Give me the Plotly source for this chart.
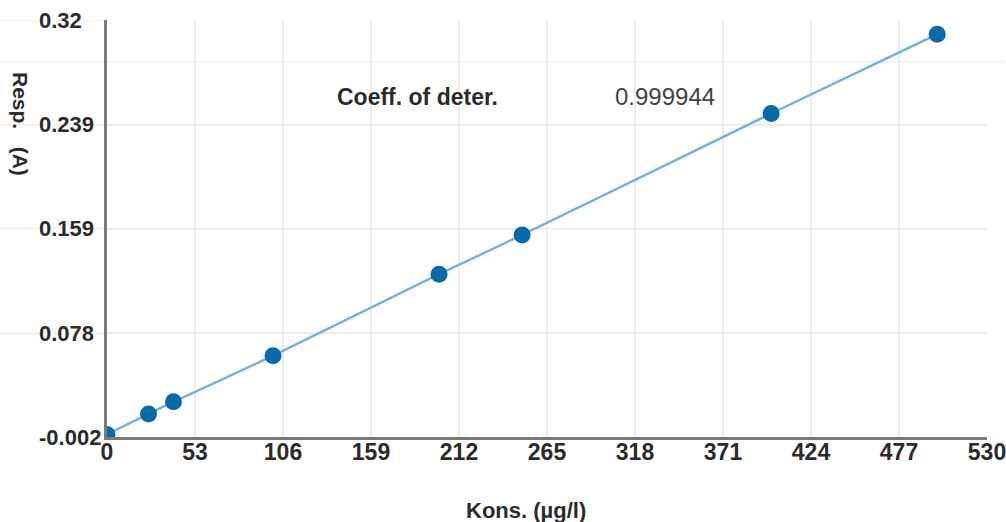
import plotly.graph_objects as go

# Calibration standards: concentration (µg/l) and measured response (A)
konsentrasjon = [0, 25, 40, 100, 200, 250, 400, 500]
respons = [0.000, 0.0158, 0.0252, 0.0608, 0.1237, 0.1540, 0.2478, 0.3090]

x_ticks = [0, 53, 106, 159, 212, 265, 318, 371, 424, 477, 530]
y_ticks = [-0.002, 0.078, 0.159, 0.239, 0.32]
y_tick_text = ["-0.002", "0.078", "0.159", "0.239", "0.32"]

coeff_label = "Coeff. of deter."
coeff_value = "0.999944"

FONT = "Liberation Sans, Arial, sans-serif"
TEXT_COLOR = "#2b2b2b"
GRID = "#ececec"
AXIS = "#7a7a7a"

# Plot area in pixels
L, R, T, B = 107, 987, 20, 437
W, H = R - L, B - T

fig = go.Figure()

# Fitted calibration curve
fig.add_trace(go.Scatter(
    x=konsentrasjon, y=respons, mode="lines",
    line=dict(color="#78b4d9", width=2.5, shape="spline", smoothing=0.6),
    hoverinfo="skip", showlegend=False,
))

# Standard points
fig.add_trace(go.Scatter(
    x=konsentrasjon, y=respons, mode="markers",
    marker=dict(color="#0a69ab", size=17),
    showlegend=False,
))

fig.update_layout(
    width=1006, height=522, autosize=False,
    margin=dict(l=L, r=1006 - R, t=T, b=522 - B),
    paper_bgcolor="white", plot_bgcolor="white",
    font=dict(family=FONT, color=TEXT_COLOR),
)

fig.update_xaxes(
    range=[0, 530], tickvals=x_ticks, ticktext=[str(v) for v in x_ticks],
    tickfont=dict(size=23, family=FONT, weight="bold", color=TEXT_COLOR),
    showgrid=True, gridcolor=GRID, gridwidth=1.5,
    showline=True, linecolor=AXIS, linewidth=2.5,
    zeroline=False, ticks="", ticklabelstandoff=-7,
    ticklabeloverflow="allow", automargin=False,
)
# y tick labels are left-aligned, so they are placed as annotations below
fig.update_yaxes(
    range=[-0.002, 0.32], tickvals=y_ticks, showticklabels=False,
    showgrid=True, gridcolor=GRID, gridwidth=1.5,
    showline=True, linecolor=AXIS, linewidth=2.5,
    zeroline=False, ticks="", automargin=False,
)

# Grid lines continue faintly into the left margin
shapes = []
for yv in y_ticks[1:]:
    shapes.append(dict(type="line", xref="paper", yref="y",
                       x0=-L / W, x1=0, y0=yv, y1=yv,
                       line=dict(color="#f0f0f0", width=1.5), layer="below"))
# Row border of the statistics table
shapes.append(dict(type="line", xref="paper", yref="paper",
                   x0=-L / W, x1=1.02, y0=(B - 62) / H, y1=(B - 62) / H,
                   line=dict(color="#f0f0f0", width=1.5), layer="below"))
fig.update_layout(shapes=shapes)

annotations = []
for yv, txt in zip(y_ticks, y_tick_text):
    annotations.append(dict(
        text=txt, x=(37 - L) / W, y=yv, xref="paper", yref="y",
        xanchor="left", yanchor="middle", showarrow=False,
        font=dict(size=22, family=FONT, weight="bold", color=TEXT_COLOR)))

labels = [
    dict(text=coeff_label, x=335, y=97, xanchor="left",
         font=dict(size=23, family=FONT, weight="bold", color=TEXT_COLOR)),
    dict(text=coeff_value, x=613, y=97, xanchor="left",
         font=dict(size=24, family=FONT, color="#444444")),
    dict(text="Kons. (µg/l)", x=526, y=510, xanchor="center",
         font=dict(size=22, family=FONT, weight="bold", color=TEXT_COLOR)),
    dict(text="Resp.   (A)", x=21, y=124, xanchor="center", textangle=90,
         font=dict(size=21, family=FONT, weight="bold", color=TEXT_COLOR)),
]
# Convert pixel positions to paper coordinates
for a in labels:
    a.update(xref="paper", yref="paper", yanchor="middle", showarrow=False)
    a["x"] = (a["x"] - L) / W
    a["y"] = (B - a["y"]) / H
    annotations.append(a)
fig.update_layout(annotations=annotations)

fig.write_html("out.html")
